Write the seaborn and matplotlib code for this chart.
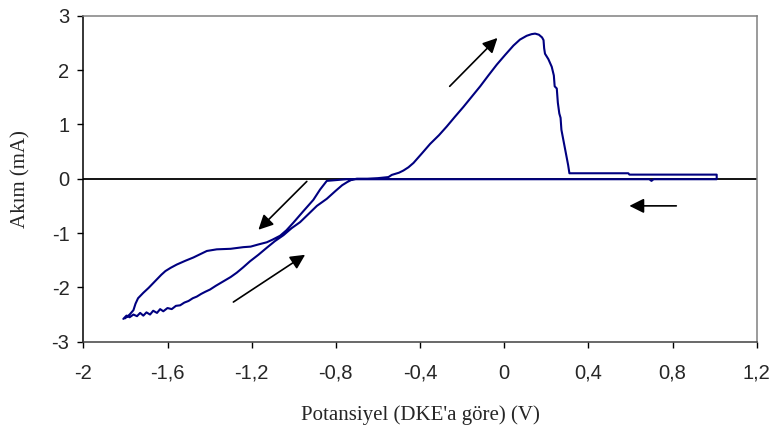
import matplotlib
matplotlib.use("Agg")
import matplotlib.pyplot as plt
import seaborn as sns
import pandas as pd

# Cyclic voltammogram: potential (V vs. SCE) and current (mA), in scan order
potential = [
    -1.810, -1.795, -1.780, -1.762, -1.745, -1.730, -1.715, -1.700, -1.683, -1.668,
    -1.650, -1.635, -1.620, -1.600, -1.580, -1.560, -1.540, -1.520, -1.500, -1.480,
    -1.461, -1.440, -1.420, -1.398, -1.370, -1.335, -1.300, -1.271, -1.240, -1.208,
    -1.168, -1.128, -1.090, -1.049, -1.010, -0.970, -0.930, -0.890, -0.843, -0.800,
    -0.770, -0.745, -0.725, -0.700,
    -0.650, -0.600, -0.550, -0.534, -0.500, -0.479, -0.455, -0.431, -0.390, -0.352,
    -0.310, -0.273, -0.234, -0.194, -0.154, -0.114, -0.075, -0.035, 0.005, 0.044,
    0.075, 0.107, 0.130, 0.147, 0.165, 0.180, 0.187, 0.190, 0.194, 0.210,
    0.226, 0.236, 0.240, 0.250, 0.255, 0.262, 0.268, 0.272, 0.281, 0.290,
    0.297, 0.304, 0.310, 0.400, 0.500, 0.590, 0.595, 0.800, 1.010, 1.010,
    0.710, 0.700, 0.690, 0.300, 0.000, -0.500, -0.750, -0.843,
    -0.875, -0.907, -0.955, -1.002, -1.035, -1.065, -1.100, -1.128, -1.168, -1.205,
    -1.240, -1.300, -1.366, -1.413, -1.445, -1.477, -1.515, -1.556, -1.585, -1.610,
    -1.630, -1.650, -1.670, -1.690, -1.715, -1.740, -1.752, -1.762, -1.780, -1.802,
]
current = [
    -2.58, -2.52, -2.55, -2.50, -2.53, -2.47, -2.52, -2.46, -2.50, -2.43,
    -2.47, -2.40, -2.44, -2.38, -2.40, -2.34, -2.33, -2.28, -2.25, -2.20,
    -2.17, -2.12, -2.08, -2.04, -1.97, -1.89, -1.81, -1.73, -1.63, -1.52,
    -1.40, -1.27, -1.15, -1.04, -0.91, -0.80, -0.65, -0.50, -0.37, -0.22,
    -0.12, -0.06, -0.02, 0.00,
    0.00, 0.01, 0.03, 0.07, 0.11, 0.15, 0.21, 0.29, 0.47, 0.64,
    0.80, 0.96, 1.14, 1.32, 1.51, 1.70, 1.90, 2.10, 2.28, 2.45,
    2.56, 2.63, 2.66, 2.67, 2.65, 2.60, 2.55, 2.40, 2.30, 2.20,
    2.06, 1.90, 1.70, 1.66, 1.40, 1.20, 1.12, 0.90, 0.72, 0.55,
    0.40, 0.25, 0.10, 0.10, 0.10, 0.10, 0.075, 0.075, 0.075, -0.01,
    -0.01, -0.04, -0.01, -0.01, -0.01, -0.01, -0.01, -0.04,
    -0.20, -0.39, -0.60, -0.81, -0.95, -1.05, -1.12, -1.17, -1.21, -1.25,
    -1.26, -1.29, -1.30, -1.33, -1.39, -1.45, -1.51, -1.58, -1.64, -1.70,
    -1.77, -1.85, -1.93, -2.01, -2.10, -2.20, -2.30, -2.42, -2.50, -2.57,
]

x_ticks = [-2.0, -1.6, -1.2, -0.8, -0.4, 0.0, 0.4, 0.8, 1.2]
x_tick_labels = ["-2", "-1,6", "-1,2", "-0,8", "-0,4", "0", "0,4", "0,8", "1,2"]
y_ticks = [-3, -2, -1, 0, 1, 2, 3]
y_tick_labels = ["-3", "-2", "-1", "0", "1", "2", "3"]

# Scan-direction arrows: (tail, head) in data coordinates
scan_arrows = [
    ((-0.259, 1.70), (-0.032, 2.59)),
    ((-0.938, -0.05), (-1.168, -0.94)),
    ((-1.287, -2.27), (-0.946, -1.40)),
    ((0.818, -0.50), (0.595, -0.50)),
]

sns.set_theme(style="white")
plt.rcParams["font.family"] = ["Liberation Sans", "DejaVu Sans"]

fig = plt.figure(figsize=(7.76, 4.32), dpi=100)
ax = fig.add_axes([0.1074, 0.2090, 0.8677, 0.7547])

df = pd.DataFrame({"Potansiyel": potential, "Akım": current})
ax.axhline(0, color="black", lw=1.3, zorder=1)
sns.lineplot(data=df, x="Potansiyel", y="Akım", sort=False, estimator=None,
             color="#000080", lw=1.5, ax=ax, zorder=2)

for (tx, ty), (hx, hy) in scan_arrows:
    ax.annotate("", xy=(hx, hy), xytext=(tx, ty),
                arrowprops=dict(arrowstyle="-|>", color="black", lw=1.2,
                                mutation_scale=22, shrinkA=0, shrinkB=0))

ax.set_xlim(-2.0, 1.2)
ax.set_ylim(-3, 3)
ax.set_xticks(x_ticks)
ax.set_xticklabels(x_tick_labels)
ax.set_yticks(y_ticks)
ax.set_yticklabels(y_tick_labels)
ax.tick_params(axis="x", direction="out", length=4, width=1, color="black",
               labelsize=14.5, pad=12, bottom=True)
ax.tick_params(axis="y", direction="out", length=4, width=1, color="black",
               labelsize=14.5, pad=6, left=True)

ax.spines["left"].set_color("black")
ax.spines["bottom"].set_color("#404040")
ax.spines["top"].set_color("#808080")
ax.spines["right"].set_color("#808080")
for s in ax.spines.values():
    s.set_linewidth(1.1)

ax.set_xlabel("Potansiyel (DKE'a göre) (V)", family=["Liberation Serif", "DejaVu Serif"],
              fontsize=15)
ax.set_ylabel("Akım (mA)", family=["Liberation Serif", "DejaVu Serif"], fontsize=15)
ax.xaxis.label.set_va("center")
ax.yaxis.label.set_va("center")
ax.xaxis.set_label_coords(0.5, -(415 - 341.7) / 326.0)
ax.yaxis.set_label_coords(-(83.3 - 21) / 673.4, 0.5)

fig.savefig("out.png", dpi=100)
